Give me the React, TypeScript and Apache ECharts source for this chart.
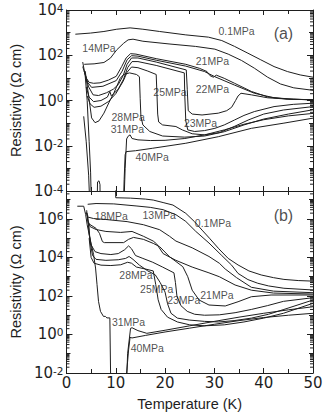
import React, { useEffect, useRef } from "react";
import * as echarts from "echarts";

// ---------- Panel (a): [temperature K, log10(resistivity / Ω cm)] ----------
const a01 = [[1.8,2.93],[4.9,2.98],[7.6,3.05],[10.2,3.15],[12.9,3.21],[15.5,3.15],[18.9,3.05],[24.2,2.9],[28.8,2.8],[31.5,2.65],[34.1,2.39],[36.8,2.09],[39.4,1.8],[42.1,1.5],[44.8,1.28],[47.4,1.13],[50,1.03]];
const a14 = [[3.6,1.6],[5.6,1.62],[7.6,1.68],[8.9,1.87],[10.2,2.24],[11.6,2.53],[12.5,2.68],[13.5,2.71],[15.5,2.62],[20.8,2.5],[26.2,2.39],[30.1,2.27],[32.8,2.05],[35.5,1.77],[38.1,1.43],[40.8,1.03],[43.4,0.73],[46.1,0.56],[50,0.45]];
const a18 = [[3.6,1.3],[4.3,0.8],[5.1,0.58],[7.4,0.63],[10.1,0.88],[11.3,1.3],[12.3,1.8],[13.2,1.98],[14.5,1.96],[18.2,1.78],[24.2,1.52],[28,1.28],[30.1,1.05],[34.1,0.68],[38.1,0.32],[42.1,0.12],[46,0.06],[50,0.03]];
const a21 = [[3.3,1.5],[4.0,1.0],[4.6,0.8],[5.5,0.76],[6.8,0.78],[8.5,0.9],[10.1,1.07],[11.2,1.5],[12.1,1.88],[13.0,2.07],[14.1,2.05],[18.2,1.85],[24.2,1.6],[27,1.42],[28.5,1.28],[29.1,1.1],[29.8,1.03],[30.4,1.12],[32,0.98],[34.1,0.76],[37.5,0.4],[40.8,0.16],[44.8,0.06],[50,0.03]];
const a22 = [[3.8,1.1],[4.5,0.6],[5.4,0.25],[6.5,0.22],[8.1,0.34],[9.5,0.5],[10.5,0.7],[11.5,1.1],[12.3,1.6],[13.2,1.88],[14.5,1.88],[18.2,1.7],[24.3,1.35],[24.5,0.5],[24.7,-0.45],[25.5,-0.6],[27.5,-0.64],[30.8,-0.56],[32.5,-0.45],[33.5,-0.3],[34.3,0.0],[34.8,0.2],[35.4,0.32],[37.5,0.25],[40.8,0.12],[45,0.06],[50,0.03]];
const a23 = [[4.0,0.6],[4.6,0.15],[5.5,-0.05],[7,0.0],[8.3,0.15],[8.8,0.4],[9.1,0.2],[10.5,0.5],[11.6,0.95],[12.4,1.45],[13.3,1.72],[14.5,1.72],[18.2,1.55],[23.9,1.22],[24.0,0.2],[24.2,-0.9],[24.6,-1.3],[26,-1.37],[28,-1.33],[30.1,-1.23],[32,-1.08],[34.1,-0.86],[36,-0.66],[38.1,-0.49],[42.1,-0.27],[46,-0.17],[50,-0.12]];
const a25 = [[4.2,0.2],[4.8,-0.15],[5.6,-0.3],[7,-0.25],[8.5,-0.05],[10,0.3],[11.5,0.85],[12.3,1.25],[13.2,1.48],[14.5,1.45],[16.5,1.3],[18.2,1.15],[18.35,0.3],[18.5,-0.6],[18.7,-0.95],[19.5,-1.08],[22.2,-1.15],[23.5,-1.3],[25.5,-1.47],[28,-1.52],[31,-1.42],[34,-1.15],[37,-0.85],[40,-0.6],[44,-0.42],[50,-0.27]];
const a28 = [[3.8,1.3],[4.5,0.2],[5.1,-0.77],[5.8,-0.98],[6.6,-0.9],[7.6,-0.56],[8.6,-0.1],[9.6,0.32],[10.9,0.98],[11.6,1.15],[12.8,1.22],[14.2,1.15],[14.8,1.05],[14.95,0.1],[15.1,-0.71],[15.5,-1.08],[16.9,-1.37],[19.5,-1.57],[24,-1.62],[28,-1.57],[32,-1.38],[36,-1.08],[40,-0.82],[45,-0.6],[50,-0.41]];
const a31 = [[3.3,1.7],[3.8,1.1],[4.2,0.0],[4.6,-1.8],[4.9,-3.2],[5.1,-5],[11.6,-5],[11.9,-3],[12.2,-1.7],[12.5,-1.58],[12.9,-1.52],[13.3,-1.68],[14.5,-1.74],[17,-1.77],[20,-1.76],[24,-1.68],[28,-1.52],[32,-1.3],[36,-1.05],[40,-0.85],[45,-0.68],[50,-0.57]];
const a40 = [[3.5,-0.7],[4.0,-1.8],[4.5,-3.3],[4.8,-5],[6.2,-5],[6.3,-3.6],[6.6,-3.55],[6.8,-3.72],[6.85,-5],[11.5,-5],[11.7,-3.5],[11.9,-2.4],[12.1,-2.26],[14,-2.22],[17.5,-2.11],[24.2,-1.89],[30.8,-1.6],[37.5,-1.23],[44.1,-1.0],[50,-0.78]];

// ---------- Panel (b) ----------
const b01 = [[9.9,8],[10.0,7.1],[13,7.08],[16,7.03],[17.6,6.98],[19.6,6.85],[21.6,6.72],[24.2,6.29],[26,5.85],[27.5,5.42],[29,5.0],[30.9,4.45],[32.8,3.95],[34.8,3.61],[37,3.3],[39.5,3.09],[42,2.95],[44.1,2.86],[47,2.8],[50,2.77]];
const b13 = [[4.3,6.76],[6,6.8],[9.6,6.78],[14.3,6.67],[17,6.6],[19.6,6.48],[22.2,6.22],[24.2,5.87],[26.2,5.36],[28.9,4.75],[31.5,4.1],[33.5,3.6],[34.8,3.17],[36.8,2.85],[38.8,2.66],[41,2.52],[44.1,2.4],[50,2.31]];
const b18 = [[4.0,6.35],[4.3,6.1],[5.5,6.02],[8,5.97],[12.3,5.86],[15.6,5.7],[18.9,5.44],[20.9,5.1],[22.2,4.85],[25.5,4.5],[28.9,4.05],[31,3.7],[32.2,3.4],[34.5,2.95],[37.5,2.45],[42,2.25],[50,2.17]];
const b22 = [[4.1,6.45],[4.3,5.95],[4.8,5.6],[6,5.45],[8,5.35],[11,5.3],[13.3,5.35],[15.6,5.1],[17.6,4.85],[18.3,4.7],[19.6,4.2],[22.2,3.85],[25.5,3.5],[28.9,3.2],[31,3.0],[34.2,2.57],[37.5,2.3],[42,2.15],[50,2.1]];
const b21 = [[4.2,6.3],[4.4,5.77],[6.0,5.51],[6.7,5.25],[7.3,4.82],[7.7,4.77],[11.6,4.77],[12.6,4.94],[13.6,5.04],[15.6,4.94],[17.6,4.73],[18.9,4.56],[20.9,4.04],[23.6,3.52],[24.6,3.0],[25.5,2.3],[26.9,1.79],[28.9,1.53],[32.2,1.48],[34.8,1.7],[37.5,1.96],[41.5,2.05],[50,2.05]];
const b23 = [[4.3,6.2],[4.6,5.2],[5.0,4.65],[5.8,4.3],[7,4.2],[9,4.15],[10.5,4.2],[11.8,4.4],[12.6,4.6],[13.2,4.45],[14.0,4.1],[15.5,3.95],[17.5,3.75],[19.5,3.5],[21.8,3.2],[22.1,2.7],[22.4,2.0],[23.2,1.5],[24.5,1.2],[26,1.05],[28,1.0],[31,1.02],[34.2,1.13],[37.5,1.3],[40.8,1.5],[44,1.72],[50,1.91]];
const b25 = [[4.5,5.8],[4.8,4.8],[5.3,4.1],[6,3.9],[8,3.85],[10.5,3.88],[12.0,3.95],[12.7,4.05],[13.5,3.9],[14.8,3.6],[16.5,3.3],[18,3.1],[19,2.7],[20,2.2],[20.5,1.6],[21.2,1.1],[22.5,0.85],[24.9,0.75],[28,0.68],[30.9,0.65],[34,0.72],[37.5,0.85],[41,1.05],[44.1,1.3],[50,1.79]];
const b28 = [[4.6,5.0],[5.0,4.0],[5.6,3.7],[7,3.6],[9,3.58],[11,3.62],[12.4,3.75],[13.2,3.7],[14.2,3.5],[16,3.4],[17.6,3.3],[18.1,2.6],[18.6,1.8],[19.2,1.3],[20.5,0.9],[22.5,0.65],[25,0.5],[28,0.45],[32,0.5],[36,0.65],[40,0.85],[44,1.1],[50,1.62]];
const b31 = [[2.2,6.66],[3.5,6.66],[3.9,6.22],[4.2,5.7],[4.9,4.84],[5.5,4.15],[5.9,3.45],[6.2,2.59],[6.5,1.72],[6.9,1.2],[7.5,0.94],[7.9,0.94],[8.2,0.86],[8.8,0.86],[9.0,-3],[9.1,-4],[12.0,-4],[12.4,-1],[13.0,0.32],[13.3,0.35],[14.5,0.2],[16.3,0.06],[20,0.22],[25,0.45],[30,0.68],[35,0.9],[40,1.1],[45,1.28],[50,1.44]];
const b40 = [[11.9,-4],[12.2,-2],[12.6,-0.8],[12.9,-0.15],[13.3,-0.18],[16,-0.05],[20,0.13],[25,0.33],[30,0.53],[35,0.72],[40,0.88],[45,1.0],[50,1.1]];

// ---------- Curve labels: [T, log10 rho, text] ----------
const labelsA: [number, number, string][] = [
  [34.5, 3.09, "0.1MPa"], [6.6, 2.3, "14MPa"], [29.6, 1.74, "21MPa"], [29.6, 0.53, "22MPa"],
  [21.0, 0.38, "25MPa"], [12.5, -0.74, "28MPa"], [12.35, -1.27, "31MPa"], [27.2, -1.0, "23MPa"],
  [17.4, -2.48, "40MPa"],
];
const labelsB: [number, number, string][] = [
  [9.1, 6.15, "18MPa"], [18.8, 6.2, "13MPa"], [29.7, 5.81, "0.1MPa"], [14.1, 3.09, "28MPa"],
  [18.3, 2.34, "25MPa"], [23.8, 1.79, "23MPa"], [30.5, 2.05, "21MPa"], [12.6, 0.67, "31MPa"],
  [16.4, -0.72, "40MPa"],
];
const panelTags: [number, number, string][] = [[44.0, 2.98, "(a)"], [44.0, 6.2, "(b)"]];

const seriesA = { "0.1MPa": a01, "14MPa": a14, "18MPa": a18, "21MPa": a21, "22MPa": a22, "23MPa": a23, "25MPa": a25, "28MPa": a28, "31MPa": a31, "40MPa": a40 };
const seriesB = { "0.1MPa": b01, "13MPa": b13, "18MPa": b18, "22MPa": b22, "21MPa": b21, "23MPa": b23, "25MPa": b25, "28MPa": b28, "31MPa": b31, "40MPa": b40 };

const INK = "#1e1e1e";

// positions of the logarithmic sub-ticks (2..9 within each decade)
function logSubTicks(lo: number, hi: number) {
  const out: number[][] = [];
  for (let n = lo; n < Math.ceil(hi); n++) {
    for (let k = 2; k <= 9; k++) {
      const v = n + Math.log10(k);
      if (v < hi) out.push([0, v]);
    }
  }
  return out;
}

export default function App() {
  const ref = useRef<HTMLDivElement>(null);
  useEffect(() => {
    if (!ref.current) return;
    const chart = echarts.init(ref.current, null, { renderer: "svg" });

    const powFmt = (v: number) => (Number.isInteger(v) ? `{b|10}{s|${v}}` : "");
    const powRich = {
      b: { fontSize: 15, fontFamily: "DejaVu Sans", color: INK, lineHeight: 16 },
      s: { fontSize: 10.5, fontFamily: "DejaVu Sans", color: INK, lineHeight: 8, verticalAlign: "top" },
    };
    const tickStyle = { color: INK, width: 1 };
    const xAxis = (grid: number, pos: "top" | "bottom", labels: boolean, name?: string) => ({
      type: "value", gridIndex: grid, position: pos, min: 0, max: 50, interval: 10,
      axisLine: { show: true, onZero: false, lineStyle: tickStyle },
      axisTick: { show: true, inside: true, length: 5, lineStyle: tickStyle },
      minorTick: { show: true, splitNumber: 2, length: 4, lineStyle: tickStyle },
      splitLine: { show: false },
      axisLabel: { show: labels, margin: 2, fontSize: 15, fontFamily: "DejaVu Sans", color: INK },
      name: name, nameLocation: "middle", nameGap: 23,
      nameTextStyle: { fontSize: 14.5, fontFamily: "Liberation Sans", color: INK },
    });
    const yAxis = (grid: number, pos: "left" | "right", min: number, max: number, labels: boolean) => ({
      type: "value", gridIndex: grid, position: pos, min, max, interval: 2,
      axisLine: { show: true, onZero: false, lineStyle: tickStyle },
      axisTick: { show: true, inside: true, length: 6, lineStyle: tickStyle },
      minorTick: { show: true, splitNumber: 2, length: 4, lineStyle: tickStyle },
      splitLine: { show: false },
      axisLabel: { show: labels, margin: 3, formatter: powFmt, rich: powRich },
      name: labels ? "Resistivity (Ω cm)" : undefined,
      nameLocation: "middle", nameGap: 35, nameRotate: 90,
      nameTextStyle: { fontSize: 14.5, fontFamily: "Liberation Sans", color: INK },
    });

    const lineSeries = (data: Record<string, number[][]>, g: number) =>
      Object.entries(data).map(([name, d]) => ({
        type: "line", name, data: d, xAxisIndex: g * 2, yAxisIndex: g * 2,
        symbol: "none", showSymbol: false, clip: true, silent: true,
        lineStyle: { color: INK, width: 1 },
      }));

    const labelSeries = (labels: [number, number, string][], g: number, tag: [number, number, string]) => ({
      type: "scatter", xAxisIndex: g * 2, yAxisIndex: g * 2, symbolSize: 0, silent: true,
      data: [
        ...labels.map((l) => ({ value: [l[0], l[1]], name: l[2] })),
        { value: [tag[0], tag[1]], name: tag[2], label: { fontSize: 16 } },
      ],
      label: { show: true, position: "inside", formatter: "{b}", fontSize: 10.5, fontFamily: "Liberation Sans", color: INK },
    });

    const tickSeries = (g: number, lo: number, hi: number) => ({
      type: "custom", xAxisIndex: g * 2, yAxisIndex: g * 2, silent: true,
      data: logSubTicks(lo, hi), encode: { x: 0, y: 1 },
      renderItem: (_p: any, api: any) => {
        const v = api.value(1);
        const l = api.coord([0, v]);
        const r = api.coord([50, v]);
        const len = 3;
        return {
          type: "group",
          children: [
            { type: "line", shape: { x1: l[0], y1: l[1], x2: l[0] + len, y2: l[1] }, style: { stroke: INK, lineWidth: 1 } },
            { type: "line", shape: { x1: r[0] - len, y1: r[1], x2: r[0], y2: r[1] }, style: { stroke: INK, lineWidth: 1 } },
          ],
        };
      },
    });

    chart.setOption({
      animation: false,
      backgroundColor: "#fff",
      grid: [
        { left: 62, top: 10, width: 251, height: 181 },
        { left: 62, top: 191, width: 251, height: 182 },
      ],
      xAxis: [
        xAxis(0, "bottom", false), xAxis(0, "top", false),
        xAxis(1, "bottom", true, "Temperature (K)"), xAxis(1, "top", false),
      ],
      yAxis: [
        yAxis(0, "left", -4, 4, true), yAxis(0, "right", -4, 4, false),
        yAxis(1, "left", -2, 7.45, true), yAxis(1, "right", -2, 7.45, false),
      ],
      series: [
        ...lineSeries(seriesA, 0),
        ...lineSeries(seriesB, 1),
        labelSeries(labelsA, 0, panelTags[0]),
        labelSeries(labelsB, 1, panelTags[1]),
        tickSeries(0, -4, 4),
        tickSeries(1, -2, 7.45),
      ],
    });
    return () => chart.dispose();
  }, []);
  return (
    <div
      ref={ref}
      style={{ position: "fixed", left: 0, top: 0, width: 327, height: 416, background: "#fff" }}
    />
  );
}
